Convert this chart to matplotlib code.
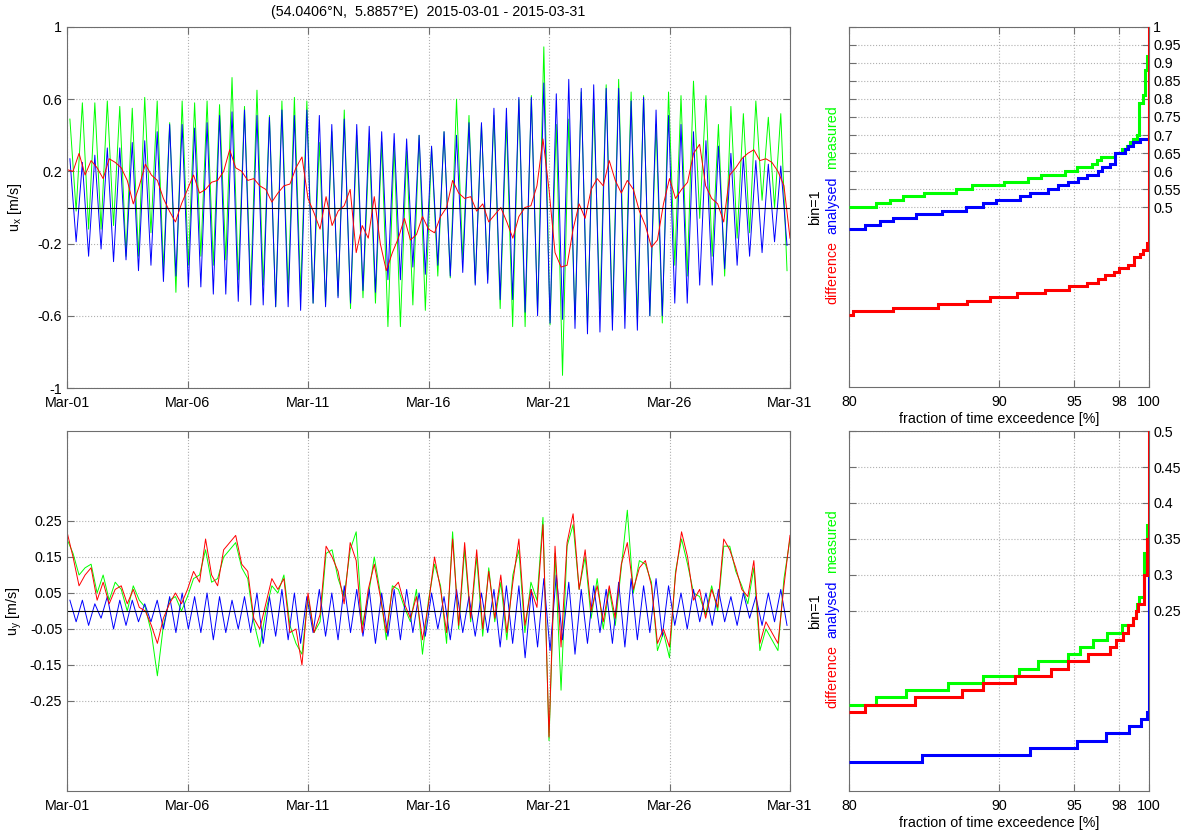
import numpy as np
import matplotlib
matplotlib.use('Agg')
import matplotlib.pyplot as plt

plt.rcParams['font.family'] = ['Liberation Sans', 'DejaVu Sans']
plt.rcParams['mathtext.fontset'] = 'custom'
plt.rcParams['mathtext.rm'] = 'Liberation Sans'
plt.rcParams['mathtext.it'] = 'Liberation Sans'
FS = 10.3

title = "(54.0406\u00b0N,  5.8857\u00b0E)  2015-03-01 - 2015-03-31"
day_ticks = [0, 5, 10, 15, 20, 25, 30]
day_labels = ['Mar-01', 'Mar-06', 'Mar-11', 'Mar-16', 'Mar-21', 'Mar-26', 'Mar-31']

# ---- u_x : tidal highs / lows per M2 cycle (58 cycles) ----
bx_hi = [0.27, 0.25, 0.29, 0.33, 0.33, 0.36, 0.37, 0.42, 0.46, 0.46, 0.44, 0.47, 0.51, 0.53, 0.54, 0.51, 0.50, 0.54, 0.51, 0.54,
         0.51, 0.46, 0.49, 0.46, 0.45, 0.42, 0.41, 0.38, 0.40, 0.34, 0.42, 0.40, 0.47, 0.47, 0.55, 0.55, 0.61, 0.61, 0.69, 0.63,
         0.71, 0.66, 0.68, 0.66, 0.66, 0.59, 0.61, 0.54, 0.51, 0.46, 0.42, 0.37, 0.34, 0.30, 0.28, 0.26, 0.24, 0.23]
bx_lo = [-0.19, -0.27, -0.23, -0.30, -0.29, -0.35, -0.32, -0.41, -0.38, -0.44, -0.44, -0.48, -0.48, -0.52, -0.54, -0.54, -0.55,
         -0.55, -0.57, -0.53, -0.55, -0.50, -0.53, -0.46, -0.47, -0.40, -0.40, -0.33, -0.37, -0.32, -0.38, -0.36, -0.43, -0.42,
         -0.51, -0.51, -0.58, -0.60, -0.64, -0.62, -0.67, -0.70, -0.69, -0.68, -0.67, -0.68, -0.60, -0.60, -0.53, -0.53, -0.43,
         -0.43, -0.34, -0.32, -0.27, -0.25, -0.19, -0.21]
gx_hi = [0.49, 0.58, 0.58, 0.59, 0.56, 0.55, 0.61, 0.59, 0.47, 0.59, 0.58, 0.59, 0.57, 0.72, 0.56, 0.65, 0.51, 0.59, 0.61, 0.59,
         0.36, 0.42, 0.54, 0.40, 0.36, 0.36, 0.34, 0.31, 0.40, 0.33, 0.42, 0.60, 0.51, 0.46, 0.51, 0.47, 0.60, 0.62, 0.89, 0.46,
         0.49, 0.64, 0.57, 0.68, 0.71, 0.64, 0.62, 0.46, 0.64, 0.62, 0.70, 0.62, 0.46, 0.56, 0.52, 0.59, 0.50, 0.52]
gx_lo = [-0.02, -0.12, -0.12, -0.10, -0.27, -0.27, -0.14, -0.34, -0.47, -0.32, -0.27, -0.32, -0.29, -0.40, -0.45, -0.43, -0.55,
         -0.47, -0.47, -0.53, -0.54, -0.49, -0.56, -0.50, -0.53, -0.66, -0.66, -0.54, -0.57, -0.38, -0.39, -0.29, -0.42, -0.40,
         -0.56, -0.66, -0.66, -0.58, -0.65, -0.93, -0.62, -0.65, -0.56, -0.62, -0.56, -0.62, -0.60, -0.64, -0.32, -0.38, -0.06,
         -0.27, -0.38, -0.17, -0.14, 0.04, 0.00, -0.35]
# difference, 6-hourly
rx = [0.21, 0.20, 0.30, 0.18, 0.26, 0.22, 0.16, 0.27, 0.25, 0.22, 0.15, 0.02, 0.12, 0.24, 0.18, 0.15,
      0.05, -0.02, -0.08, 0.02, 0.10, 0.18, 0.08, 0.10, 0.14, 0.15, 0.20, 0.32, 0.22, 0.20, 0.15, 0.16,
      0.12, 0.10, 0.03, 0.08, 0.12, 0.13, 0.22, 0.28, 0.05, -0.03, -0.12, 0.06, -0.10, -0.02, 0.01, 0.10,
      -0.25, -0.10, -0.17, 0.06, -0.20, -0.35, -0.25, -0.17, -0.06, -0.18, -0.15, -0.05, -0.12, -0.14, -0.05, 0.00,
      0.15, 0.08, 0.05, 0.06, -0.02, 0.02, -0.08, -0.04, 0.00, -0.08, -0.17, -0.05, 0.00, 0.01, 0.12, 0.38,
      0.10, -0.25, -0.33, -0.32, -0.12, 0.02, -0.06, 0.10, 0.16, 0.12, 0.26, 0.15, 0.08, 0.15, 0.10, -0.02,
      -0.10, -0.22, -0.18, 0.02, 0.16, 0.05, 0.10, 0.14, 0.30, 0.35, 0.12, 0.05, 0.02, -0.08, 0.18, 0.22,
      0.27, 0.30, 0.32, 0.26, 0.27, 0.25, 0.20, 0.12, -0.17]

# ---- u_y ----
by_hi = [0.03, 0.03, 0.02, 0.04, 0.03, 0.03, 0.02, 0.03, 0.04, 0.05, 0.04, 0.05, 0.04, 0.03, 0.04, 0.05, 0.04, 0.06, 0.05, 0.04,
         0.06, 0.05, 0.07, 0.06, 0.06, 0.05, 0.06, 0.06, 0.05, 0.05, 0.04, 0.06, 0.04, 0.05, 0.06, 0.07, 0.07, 0.06, 0.09, 0.10,
         0.08, 0.06, 0.07, 0.06, 0.08, 0.09, 0.07, 0.09, 0.07, 0.05, 0.06, 0.05, 0.06, 0.04, 0.05, 0.04, 0.05, 0.06]
by_lo = [-0.03, -0.04, -0.02, -0.05, -0.04, -0.03, -0.03, -0.05, -0.06, -0.05, -0.06, -0.08, -0.06, -0.05, -0.06, -0.09, -0.07,
         -0.08, -0.09, -0.06, -0.07, -0.08, -0.06, -0.07, -0.09, -0.07, -0.08, -0.06, -0.07, -0.05, -0.08, -0.06, -0.07, -0.06,
         -0.10, -0.09, -0.13, -0.10, -0.11, -0.08, -0.12, -0.09, -0.06, -0.09, -0.10, -0.08, -0.06, -0.07, -0.04, -0.05, -0.03,
         -0.04, -0.03, -0.04, -0.02, -0.04, -0.03, -0.04]
gy = [0.20, 0.16, 0.10, 0.12, 0.13, 0.05, 0.10, 0.03, 0.08, 0.06, 0.00, 0.07, 0.03, 0.01, -0.06, -0.18,
      -0.04, 0.03, 0.04, 0.00, 0.04, 0.09, 0.10, 0.17, 0.08, 0.09, 0.15, 0.17, 0.19, 0.12, 0.09, -0.03,
      -0.10, 0.00, 0.07, 0.05, 0.10, -0.04, -0.09, -0.12, 0.04, -0.06, -0.03, 0.16, 0.17, 0.09, 0.04, 0.17,
      0.22, -0.04, 0.04, 0.15, 0.05, -0.08, 0.07, 0.06, 0.01, -0.03, 0.06, -0.12, 0.03, 0.13, 0.07, -0.09,
      0.22, -0.05, 0.17, -0.03, 0.15, -0.07, 0.12, -0.03, 0.08, -0.08, 0.10, 0.17, -0.06, 0.08, 0.03, 0.26,
      -0.36, 0.16, -0.22, 0.18, 0.24, 0.06, 0.15, -0.02, 0.09, -0.05, 0.06, -0.04, 0.12, 0.28, 0.05, 0.14,
      0.13, 0.08, -0.11, -0.06, -0.13, 0.11, 0.20, 0.13, 0.05, 0.04, -0.01, 0.07, 0.00, 0.18, 0.18, 0.11,
      0.07, 0.02, 0.12, -0.11, -0.05, -0.08, -0.11, 0.09, 0.20]
ry = [0.22, 0.15, 0.07, 0.10, 0.12, 0.03, 0.08, 0.02, 0.06, 0.07, 0.02, 0.06, 0.01, 0.00, -0.04, -0.09,
      -0.02, 0.02, 0.05, 0.02, 0.06, 0.11, 0.08, 0.20, 0.10, 0.07, 0.17, 0.19, 0.21, 0.13, 0.11, -0.02,
      -0.05, 0.02, 0.09, 0.06, 0.09, -0.06, -0.05, -0.15, 0.05, -0.06, -0.01, 0.18, 0.15, 0.11, 0.02, 0.19,
      0.14, -0.06, 0.06, 0.13, 0.04, -0.06, 0.06, 0.08, 0.02, -0.02, 0.04, -0.08, 0.02, 0.15, 0.06, -0.06,
      0.20, -0.04, 0.19, -0.02, 0.17, -0.05, 0.11, -0.02, 0.10, -0.06, 0.08, 0.20, -0.04, 0.06, 0.01, 0.24,
      -0.35, 0.18, -0.10, 0.19, 0.27, 0.06, 0.17, 0.00, 0.07, -0.03, 0.07, -0.02, 0.13, 0.19, 0.06, 0.12,
      0.14, 0.07, -0.09, -0.05, -0.10, 0.10, 0.22, 0.15, 0.03, 0.06, -0.02, 0.06, 0.01, 0.20, 0.17, 0.12,
      0.06, 0.04, 0.14, -0.09, -0.03, -0.06, -0.09, 0.07, 0.21]

# ---- exceedence curves (value steps and fraction edges) ----
g1_vals = [0.50, 0.51, 0.52, 0.53, 0.54, 0.55, 0.56, 0.57, 0.58, 0.59, 0.60, 0.61, 0.62, 0.63, 0.64, 0.65, 0.66, 0.67, 0.68,
           0.69, 0.70, 0.79, 0.81, 0.88, 0.92]
g1_edges = [80, 81.8, 82.7, 83.6, 85.0, 87.1, 88.2, 90.3, 91.9, 92.8, 94.4, 95.2, 96.2, 96.5, 96.8, 97.7, 98.2, 98.5, 98.7,
            98.95, 99.2, 99.3, 99.6, 99.7, 99.85, 99.97]
b1_vals = [0.44, 0.45, 0.46, 0.47, 0.48, 0.49, 0.50, 0.51, 0.52, 0.53, 0.54, 0.55, 0.56, 0.57, 0.58, 0.59, 0.60, 0.61, 0.62,
           0.65, 0.66, 0.67, 0.68, 0.69]
b1_edges = [80, 81.07, 82.07, 82.96, 84.47, 86.18, 87.8, 88.91, 89.8, 91.4, 92.07, 93.29, 93.91, 94.62, 95.29, 95.84, 96.62,
            96.84, 97.4, 97.73, 98.4, 98.62, 98.96, 99.4, 99.97]
r1_vals = [0.20, 0.21, 0.22, 0.23, 0.24, 0.25, 0.26, 0.27, 0.28, 0.29, 0.30, 0.31, 0.32, 0.33, 0.34, 0.36, 0.37, 0.38, 0.40, 1.0]
r1_edges = [80, 80.29, 82.96, 85.96, 87.84, 89.4, 91.22, 93.07, 94.69, 95.84, 96.62, 97.07, 97.67, 98.02, 98.62, 99.02, 99.4,
            99.62, 99.84, 100, 100.3]

g2_vals = [0.12, 0.13, 0.14, 0.15, 0.16, 0.17, 0.18, 0.19, 0.20, 0.21, 0.22, 0.23, 0.24, 0.25, 0.26, 0.27, 0.33, 0.37]
g2_edges = [80, 81.8, 83.8, 86.58, 88.96, 91.33, 92.62, 94.58, 95.4, 96.24, 97.18, 98.22, 98.9, 99.1, 99.22, 99.36, 99.69,
            99.84, 99.97]
r2_vals = [0.11, 0.12, 0.13, 0.14, 0.15, 0.16, 0.17, 0.18, 0.19, 0.20, 0.21, 0.22, 0.23, 0.24, 0.25, 0.26, 0.30, 0.35, 0.50]
r2_edges = [80, 81.07, 84.4, 87.56, 88.96, 91.07, 93.44, 94.58, 95.96, 97.4, 97.8, 98.24, 98.62, 98.96, 99.15, 99.29, 99.69,
            99.84, 100, 100.3]
b2_vals = [0.04, 0.05, 0.06, 0.07, 0.08, 0.09, 0.10, 0.11, 0.30]
b2_edges = [80, 84.84, 92.07, 95.18, 97.13, 98.69, 99.44, 99.84, 100, 100.3]

GREEN, BLUE, RED = '#00ff00', '#0000ff', '#ff0000'
SPINE = '#6e6e6e'


def tide_series(hi, lo):
    # time of each high / low water (days), M2 half period spacing
    n = len(hi)
    t = np.empty(2 * n)
    v = np.empty(2 * n)
    t[0::2] = 0.12 + 0.5175 * np.arange(n)
    t[1::2] = t[0::2] + 0.2588
    v[0::2] = hi
    v[1::2] = lo
    return t, v


def style(ax):
    for s in ax.spines.values():
        s.set_color(SPINE)
    ax.tick_params(direction='in', length=5, color=SPINE, labelsize=FS, top=True, right=True)
    ax.tick_params(axis='x', pad=6)
    ax.grid(True, linestyle=':', color='#b0b0b0', linewidth=0.8)


fig = plt.figure(figsize=(11.92, 8.36), dpi=100)
W, H = 1192.0, 836.0


def box(l, t, r, b):
    return [l / W, 1 - b / H, (r - l) / W, (b - t) / H]


t6 = np.arange(len(rx)) * 0.25

# top-left
ax1 = fig.add_axes(box(67, 27, 790, 388))
t, v = tide_series(gx_hi, gx_lo)
ax1.plot(t, v, color=GREEN, lw=0.7)
t, v = tide_series(bx_hi, bx_lo)
ax1.plot(t, v, color=BLUE, lw=0.7)
ax1.plot(t6, rx, color=RED, lw=0.7)
ax1.axhline(0, color='black', lw=0.8)
ax1.set_xlim(0, 30)
ax1.set_ylim(-1, 1)
ax1.set_yticks([-1, -0.6, -0.2, 0.2, 0.6, 1])
ax1.set_yticklabels(['-1', '-0.6', '-0.2', '0.2', '0.6', '1'])
ax1.set_xticks(day_ticks)
ax1.set_xticklabels(day_labels)
style(ax1)
ax1.set_ylabel(r'u$_\mathrm{x}$ [m/s]', fontsize=FS)
ax1.yaxis.set_label_coords(-0.06, 0.5)
ax1.set_title(title, fontsize=FS, pad=8)

# bottom-left
ax2 = fig.add_axes(box(67, 431, 790, 791))
t, v = tide_series(by_hi, by_lo)
ax2.plot(t6, gy, color=GREEN, lw=0.7)
ax2.plot(t, v, color=BLUE, lw=0.7)
ax2.plot(t6, ry, color=RED, lw=0.7)
ax2.axhline(0, color='black', lw=0.8)
ax2.set_xlim(0, 30)
ax2.set_ylim(-0.5, 0.5)
ax2.set_yticks([-0.25, -0.15, -0.05, 0.05, 0.15, 0.25])
ax2.set_yticklabels(['-0.25', '-0.15', '-0.05', '0.05', '0.15', '0.25'])
ax2.set_xticks(day_ticks)
ax2.set_xticklabels(day_labels)
style(ax2)
ax2.set_ylabel(r'u$_\mathrm{y}$ [m/s]', fontsize=FS)
ax2.yaxis.set_label_coords(-0.06, 0.5)

# right panels
panels = [
    (box(849, 27, 1149, 387), (0, 1), np.arange(0.5, 1.001, 0.05), ['0.5'] + ['%g' % x for x in np.arange(0.55, 1.001, 0.05)],
     [(g1_vals, g1_edges, GREEN), (b1_vals, b1_edges, BLUE), (r1_vals, r1_edges, RED)]),
    (box(849, 431, 1149, 791), (0, 0.5), np.arange(0.25, 0.501, 0.05), ['%g' % x for x in np.arange(0.25, 0.501, 0.05)],
     [(g2_vals, g2_edges, GREEN), (b2_vals, b2_edges, BLUE), (r2_vals, r2_edges, RED)]),
]
for pos, ylim, yt, ytl, curves in panels:
    ax = fig.add_axes(pos)
    for vals, edges, c in curves:
        ax.stairs(vals, edges, baseline=None, color=c, lw=2.2, zorder=3)
    ax.set_xlim(80, 100)
    ax.set_ylim(*ylim)
    ax.set_xticks([80, 90, 95, 98, 100])
    ax.set_yticks(yt)
    ax.set_yticklabels(ytl)
    style(ax)
    ax.tick_params(labelleft=False, labelright=True)
    ax.tick_params(axis='y', pad=3)
    ax.set_xlabel('fraction of time exceedence [%]', fontsize=FS, labelpad=2)

# colored y labels of the right panels
for dy in (0, 404):
    fig.text(815 / W, 1 - (207 + dy) / H, 'bin=1', rotation=90, ha='center', va='center', fontsize=FS)
    fig.text(832 / W, 1 - (137.5 + dy) / H, 'measured', rotation=90, ha='center', va='center', fontsize=FS, color=GREEN)
    fig.text(832 / W, 1 - (205 + dy) / H, 'analysed', rotation=90, ha='center', va='center', fontsize=FS, color=BLUE)
    fig.text(832 / W, 1 - (272.5 + dy) / H, 'difference', rotation=90, ha='center', va='center', fontsize=FS, color=RED)

fig.savefig('out.png', dpi=100)
